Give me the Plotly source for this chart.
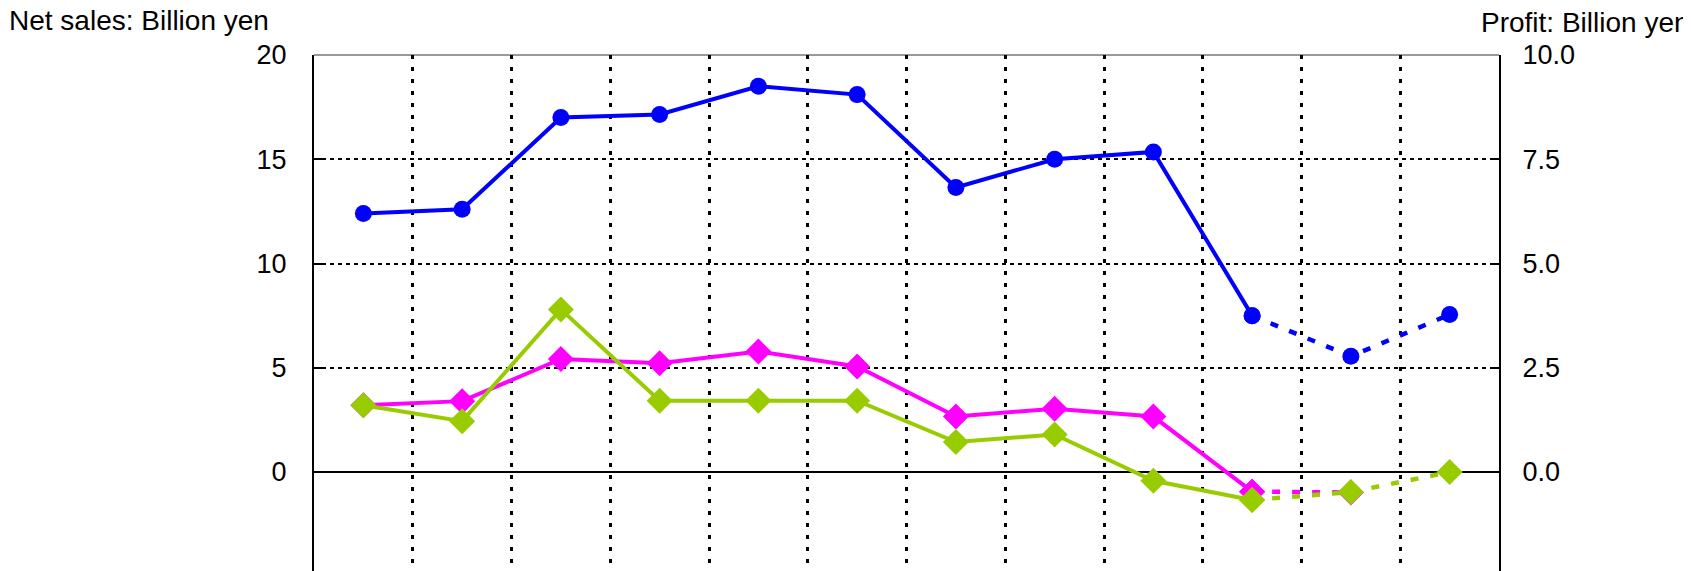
import plotly.graph_objects as go

periods = list(range(12))
net_sales = [12.4, 12.6, 17.0, 17.15, 18.5, 18.1, 13.65, 15.0, 15.35, 7.5, 5.55, 7.55]
profit_pink = [1.6, 1.7, 2.71, 2.61, 2.89, 2.53, 1.33, 1.52, 1.33, -0.47, -0.49]
profit_green = [1.6, 1.22, 3.9, 1.71, 1.71, 1.71, 0.72, 0.9, -0.21, -0.67, -0.48, 0.0]
actual_n = 10  # first 10 periods are actual (solid), rest forecast (dashed)

BLUE = "#0000FF"
PINK = "#FF00FF"
GREEN = "#99CC00"

fig = go.Figure()

def add_series(vals, color, symbol, size, yaxis):
    xs = periods[:len(vals)]
    fig.add_trace(go.Scatter(
        x=xs[:actual_n], y=vals[:actual_n], mode="lines+markers", yaxis=yaxis,
        line=dict(color=color, width=4),
        marker=dict(color=color, symbol=symbol, size=size),
        showlegend=False, hoverinfo="x+y"))
    fig.add_trace(go.Scatter(
        x=xs[actual_n - 1:], y=vals[actual_n - 1:], mode="lines+markers", yaxis=yaxis,
        line=dict(color=color, width=4.5, dash="8px,12px"),
        marker=dict(color=color, symbol=symbol, size=size),
        showlegend=False, hoverinfo="x+y"))

add_series(profit_pink, PINK, "diamond", 20, "y2")
add_series(profit_green, GREEN, "diamond", 20, "y2")
add_series(net_sales, BLUE, "circle", 17, "y")

# page body adds an 8px offset
L, R, T, B = 306, 200, 47, 0
W, H = 1691, 571
pw = W - L - R
ph = H - T - B
y_low = -5.13

fig.update_layout(
    width=W, height=H,
    margin=dict(l=L, r=R, t=T, b=B),
    plot_bgcolor="white", paper_bgcolor="white",
    font=dict(family="Liberation Sans, Arial, sans-serif", size=27, color="black"),
    xaxis=dict(
        range=[-0.5, 11.5], tickvals=[i + 0.5 for i in range(11)],
        showticklabels=False, ticks="",
        showgrid=True, gridcolor="black", gridwidth=2.5, griddash="4px,8px",
        zeroline=False, showline=False,
    ),
    yaxis=dict(
        range=[y_low, 20], tickvals=[0, 5, 10, 15, 20],
        ticks="inside", ticklen=8, tickwidth=2, tickcolor="black",
        showgrid=True, gridcolor="black", gridwidth=2, griddash="4px,4px",
        zeroline=True, zerolinecolor="black", zerolinewidth=2,
        showline=True, linecolor="black", linewidth=2,
        ticklabelstandoff=20,
    ),
    yaxis2=dict(
        range=[y_low / 2, 10], tickvals=[0, 2.5, 5, 7.5, 10], tickformat=".1f",
        overlaying="y", side="right",
        ticks="inside", ticklen=8, tickwidth=2, tickcolor="black",
        showgrid=False, zeroline=False,
        showline=True, linecolor="black", linewidth=2,
        ticklabelstandoff=16,
    ),
    shapes=[dict(type="line", xref="paper", yref="paper", x0=0, x1=1, y0=1, y1=1,
                 line=dict(color="#999999", width=2), layer="below")],
    annotations=[
        dict(text="Net sales: Billion yen", xref="paper", yref="paper",
             x=(-1 - L) / pw, y=1 + (T - 13) / ph, xanchor="left", yanchor="middle",
             showarrow=False, font=dict(size=28)),
        dict(text="Profit: Billion yen", xref="paper", yref="paper",
             x=(1471 - L) / pw, y=1 + (T - 14) / ph, xanchor="left", yanchor="middle",
             showarrow=False, font=dict(size=28)),
    ],
)

fig.write_html("out.html")
